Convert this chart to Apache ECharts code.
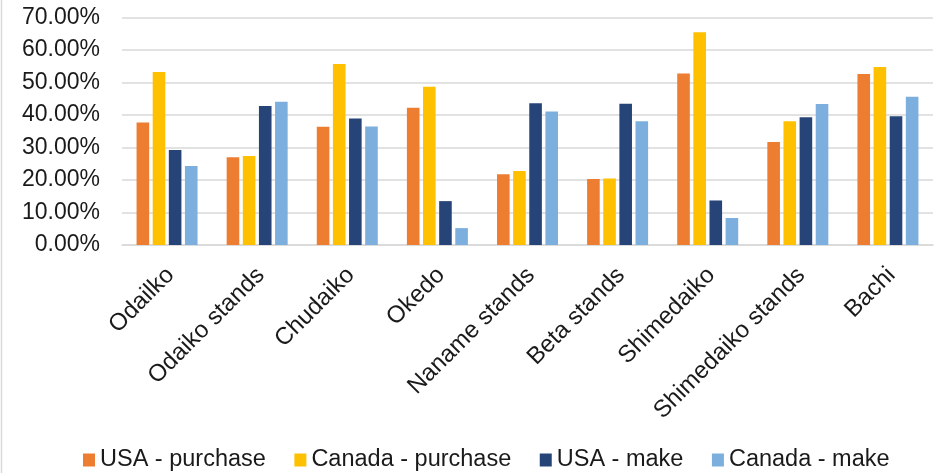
<!DOCTYPE html>
<html>
<head>
<meta charset="utf-8">
<script src="https://cdn.jsdelivr.net/npm/echarts@6/dist/echarts.min.js"></script>
<style>
html,body{margin:0;padding:0;background:#fff;}
#c{width:940px;height:473px;}
</style>
</head>
<body>
<div id="c"></div>
<script>
const categories = ["Odailko","Odaiko stands","Chudaiko","Okedo","Naname stands","Beta stands","Shimedaiko","Shimedaiko stands","Bachi"];
const usaPurchase    = [0.377,0.270,0.364,0.422,0.218,0.203,0.528,0.317,0.526];
const canadaPurchase = [0.532,0.274,0.557,0.487,0.228,0.205,0.655,0.381,0.548];
const usaMake        = [0.292,0.428,0.389,0.135,0.436,0.435,0.137,0.393,0.396];
const canadaMake     = [0.243,0.441,0.365,0.052,0.411,0.381,0.083,0.434,0.456];
const seriesNames = ["USA - purchase","Canada - purchase","USA - make","Canada - make"];
const colors = ["#ED7D31","#FFC000","#264478","#7CAFDD"];

const font = "'Liberation Sans', Arial, sans-serif";
const chart = echarts.init(document.getElementById('c'));
const datasets = [usaPurchase, canadaPurchase, usaMake, canadaMake];
chart.setOption({
  animation: false,
  textStyle: {fontFamily: font},
  grid: {left: 122, right: 7, top: 17.5, bottom: 228, containLabel: false},
  graphic: [{type:'line', shape:{x1:1.5,y1:0,x2:1.5,y2:473}, style:{stroke:'#d9d9d9', lineWidth:1.5}}],
  legend: {
    top: 448, left: 83, padding: 0,
    itemWidth: 12, itemHeight: 13, itemGap: 28.5,
    icon: 'rect',
    textStyle: {fontSize: 23.5, color: '#1a1a1a', fontFamily: font},
    data: seriesNames
  },
  xAxis: {
    type: 'category', data: categories,
    axisLine: {lineStyle: {color: '#d9d9d9', width: 1.5}},
    axisTick: {show: false},
    axisLabel: {rotate: 45, interval: 0, fontSize: 24, color: '#1a1a1a', margin: 30, fontFamily: font,
      padding: [0, -5, 0, 0]}
  },
  yAxis: {
    type: 'value', min: 0, max: 0.7, interval: 0.1,
    axisLine: {show: false}, axisTick: {show: false},
    splitLine: {lineStyle: {color: '#d9d9d9', width: 1.5}},
    axisLabel: {fontSize: 23, color: '#1a1a1a', margin: 22, fontFamily: font,
      formatter: v => (v*100).toFixed(2) + '%'}
  },
  series: datasets.map((d, i) => ({
    name: seriesNames[i], type: 'bar', data: d,
    barWidth: 12.6, barGap: '28%',
    itemStyle: {color: colors[i]}
  }))
});
</script>
</body>
</html>
